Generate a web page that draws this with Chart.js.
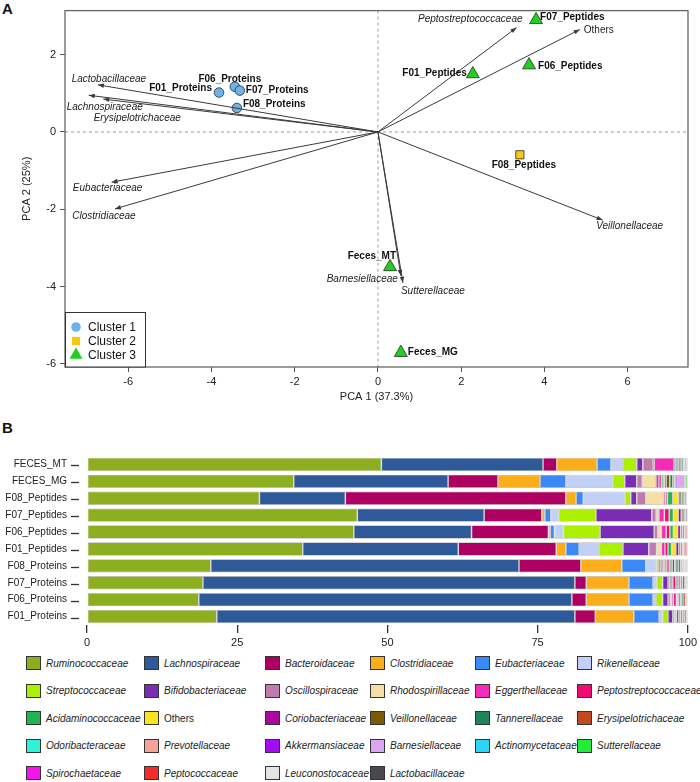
<!DOCTYPE html>
<html>
<head>
<meta charset="utf-8">
<script src="https://cdn.jsdelivr.net/npm/chart.js@4.4.1/dist/chart.umd.min.js"></script>
<style>
  body { margin: 0; background: #fff; font-family: 'Liberation Sans', Arial, sans-serif; }
  #page { position: relative; width: 700px; height: 782px; overflow: hidden; }
  .panel { position: absolute; font-weight: bold; font-size: 15px; color: #111; }
  #wrapA { position: absolute; left: 0; top: 0; width: 700px; height: 410px; }
  #wrapB { position: absolute; left: 0; top: 430px; width: 700px; height: 222px; }
  .lg { position: absolute; display: flex; align-items: center; font-size: 10px; font-style: italic; color: #222; white-space: nowrap; }
  .lg span.box { display: inline-block; width: 13px; height: 12px; border: 1px solid #333; margin-right: 5px; }
</style>
</head>
<body>
<div id="page">
  <div class="panel" style="left:2px;top:0px">A</div>
  <div class="panel" style="left:2px;top:419px">B</div>
  <div id="wrapA"><canvas id="pca"></canvas></div>
  <div id="wrapB"><canvas id="bars"></canvas></div>
  <div id="legendB"></div>
</div>
<script>
const FONT = "'Liberation Sans', Arial, sans-serif";
Chart.defaults.font.family = FONT;
Chart.defaults.color = '#222';

// ---- Panel A: PCA biplot ----
const sampleNames = ['F01_Proteins', 'F06_Proteins', 'F07_Proteins', 'F08_Proteins',
  'F01_Peptides', 'F06_Peptides', 'F07_Peptides', 'F08_Peptides', 'Feces_MT', 'Feces_MG'];
const samplePC1 = [-3.82, -3.44, -3.32, -3.39, 2.28, 3.63, 3.80, 3.41, 0.29, 0.55];
const samplePC2 = [1.02, 1.17, 1.07, 0.62, 1.50, 1.73, 2.90, -0.59, -3.49, -5.71];
const sampleCluster = [1, 1, 1, 1, 3, 3, 3, 2, 3, 3];

const loadingNames = ['Lactobacillaceae', 'Lachnospiraceae', 'Erysipelotrichaceae', 'Eubacteriaceae',
  'Clostridiaceae', 'Peptostreptococcaceae', 'Others', 'Veillonellaceae', 'Barnesiellaceae', 'Sutterellaceae'];
const loadingPC1 = [-6.73, -6.95, -6.60, -6.40, -6.32, 3.33, 4.85, 5.40, 0.55, 0.60];
const loadingPC2 = [1.22, 0.95, 0.85, -1.30, -1.99, 2.70, 2.65, -2.28, -3.72, -3.90];

const pcaTicksX = [-6, -4, -2, 0, 2, 4, 6];
const pcaTicksY = [-6, -4, -2, 0, 2];

// cluster look
const clusterStyle = {
  1: { label: 'Cluster 1', shape: 'circle', color: '#6DB3E8', r: 4.8 },
  2: { label: 'Cluster 2', shape: 'rect', color: '#F6C80E', r: 5.8 },
  3: { label: 'Cluster 3', shape: 'triangle', color: '#1FD01F', r: 7.5 }
};

// label placement (pixel offsets from the mark, text alignment)
const sampleLabelPos = {
  F01_Proteins: [-7, -4, 'right'], F06_Proteins: [-5, -8, 'center'], F07_Proteins: [6, 0, 'left'],
  F08_Proteins: [6, -4, 'left'], F01_Peptides: [-6, -1, 'right'], F06_Peptides: [9, 1, 'left'],
  F07_Peptides: [4, -3, 'left'], F08_Peptides: [4, 10, 'center'], Feces_MT: [6, -11, 'right'],
  Feces_MG: [7, 0, 'left']
};
const loadingLabelPos = {
  Lactobacillaceae: [11, -6, 'center'], Lachnospiraceae: [16, 12, 'center'],
  Erysipelotrichaceae: [34, 19, 'center'], Eubacteriaceae: [-4, 6, 'center'],
  Clostridiaceae: [-11, 7, 'center'], Peptostreptococcaceae: [6, -8, 'right'],
  Others: [4, 1, 'left'], Veillonellaceae: [27, 6, 'center'],
  Barnesiellaceae: [-3, 3, 'right'], Sutterellaceae: [-2, 8, 'left']
};

const arrowSets = loadingNames.map((n, i) => ({
  type: 'line',
  label: n,
  data: [{ x: 0, y: 0 }, { x: loadingPC1[i], y: loadingPC2[i] }],
  borderColor: '#3a3a3a',
  borderWidth: 1,
  pointRadius: 0,
  fill: false
}));

const pointSets = [1, 2, 3].map(c => ({
  type: 'scatter',
  label: clusterStyle[c].label,
  data: sampleNames.map((n, i) => ({ x: samplePC1[i], y: samplePC2[i], c: sampleCluster[i] }))
    .filter(p => p.c === c),
  pointStyle: clusterStyle[c].shape,
  pointRadius: clusterStyle[c].r,
  backgroundColor: clusterStyle[c].color,
  borderColor: '#2a2a2a',
  borderWidth: 0.8
}));

function drawMarker(ctx, style, x, y) {
  ctx.fillStyle = style.color;
  ctx.strokeStyle = '#2a2a2a';
  ctx.lineWidth = 0.8;
  Chart.helpers.drawPoint(ctx, { pointStyle: style.shape, radius: style.r, rotation: 0 }, x, y);
}

const pcaDecor = {
  id: 'pcaDecor',
  beforeDatasetsDraw(chart) {
    const { ctx, chartArea: a, scales: { x, y } } = chart;
    ctx.save();
    ctx.strokeStyle = '#9a9a9a';
    ctx.lineWidth = 1;
    ctx.setLineDash([3, 3]);
    const x0 = x.getPixelForValue(0), y0 = y.getPixelForValue(0);
    ctx.beginPath();
    ctx.moveTo(x0, a.top); ctx.lineTo(x0, a.bottom);
    ctx.moveTo(a.left, y0); ctx.lineTo(a.right, y0);
    ctx.stroke();
    ctx.restore();
  },
  afterDatasetsDraw(chart) {
    const { ctx, chartArea: a, scales: { x, y } } = chart;
    ctx.save();
    const x0 = x.getPixelForValue(0), y0 = y.getPixelForValue(0);
    // arrowheads + loading names
    loadingNames.forEach((n, i) => {
      const x1 = x.getPixelForValue(loadingPC1[i]);
      const y1 = y.getPixelForValue(loadingPC2[i]);
      const ang = Math.atan2(y1 - y0, x1 - x0);
      const L = 6, W = 2.3;
      ctx.fillStyle = '#3a3a3a';
      ctx.beginPath();
      ctx.moveTo(x1, y1);
      ctx.lineTo(x1 - L * Math.cos(ang) + W * Math.sin(ang), y1 - L * Math.sin(ang) - W * Math.cos(ang));
      ctx.lineTo(x1 - L * Math.cos(ang) - W * Math.sin(ang), y1 - L * Math.sin(ang) + W * Math.cos(ang));
      ctx.closePath();
      ctx.fill();
      const p = loadingLabelPos[n];
      ctx.font = (n === 'Others' ? '' : 'italic ') + '10px ' + FONT;
      ctx.fillStyle = '#222';
      ctx.textAlign = p[2];
      ctx.textBaseline = 'middle';
      ctx.fillText(n, x1 + p[0], y1 + p[1]);
    });
    // sample names
    ctx.font = 'bold 10px ' + FONT;
    sampleNames.forEach((n, i) => {
      const p = sampleLabelPos[n];
      ctx.textAlign = p[2];
      ctx.fillStyle = '#111';
      ctx.fillText(n, x.getPixelForValue(samplePC1[i]) + p[0], y.getPixelForValue(samplePC2[i]) + p[1]);
    });
    // frame
    ctx.strokeStyle = '#666';
    ctx.lineWidth = 1.3;
    ctx.strokeRect(a.left, a.top, a.right - a.left, a.bottom - a.top);
    // cluster legend
    const bx = a.left, bw = 80, bh = 55, by = a.bottom - bh;
    ctx.fillStyle = '#fff';
    ctx.fillRect(bx, by, bw, bh);
    ctx.strokeStyle = '#333';
    ctx.lineWidth = 1;
    ctx.strokeRect(bx + 0.5, by + 0.5, bw, bh - 0.5);
    [1, 2, 3].forEach((c, k) => {
      const cy = by + 15 + k * 14;
      drawMarker(ctx, clusterStyle[c], bx + 11, cy);
      ctx.fillStyle = '#111';
      ctx.font = '12px ' + FONT;
      ctx.textAlign = 'left';
      ctx.textBaseline = 'middle';
      ctx.fillText(clusterStyle[c].label, bx + 23, cy + 1);
    });
    ctx.restore();
  }
};

new Chart(document.getElementById('pca'), {
  data: { datasets: [...arrowSets, ...pointSets] },
  options: {
    responsive: true,
    maintainAspectRatio: false,
    animation: false,
    layout: { padding: { left: 0, right: 12, top: 6, bottom: 0 } },
    plugins: { legend: { display: false }, tooltip: { enabled: false } },
    scales: {
      x: {
        type: 'linear', position: 'bottom', min: -7.52, max: 7.45,
        afterBuildTicks: s => { s.ticks = pcaTicksX.map(v => ({ value: v })); },
        afterFit: s => { s.height = 43; },
        grid: { drawOnChartArea: false, tickLength: 5, color: '#555' },
        border: { display: false },
        ticks: { font: { size: 11 }, padding: 3, color: '#222' },
        title: { display: true, text: 'PCA 1 (37.3%)', font: { size: 11 }, padding: { top: 0, bottom: 6 }, color: '#222' }
      },
      y: {
        type: 'linear', min: -6.08, max: 3.14,
        afterBuildTicks: s => { s.ticks = pcaTicksY.map(v => ({ value: v })); },
        afterFit: s => { s.width = 65; },
        grid: { drawOnChartArea: false, tickLength: 5, color: '#555' },
        border: { display: false },
        ticks: { font: { size: 11 }, padding: 4, color: '#222' },
        title: { display: true, text: 'PCA 2 (25%)', font: { size: 11 }, padding: { top: 20, bottom: 0 }, color: '#222' }
      }
    }
  },
  plugins: [pcaDecor]
});

// ---- Panel B: family composition ----
const barSamples = ['FECES_MT', 'FECES_MG', 'F08_Peptides', 'F07_Peptides', 'F06_Peptides',
  'F01_Peptides', 'F08_Proteins', 'F07_Proteins', 'F06_Proteins', 'F01_Proteins'];
const families = ['Ruminococcaceae', 'Lachnospiraceae', 'Bacteroidaceae', 'Clostridiaceae', 'Eubacteriaceae',
  'Rikenellaceae', 'Streptococcaceae', 'Bifidobacteriaceae', 'Oscillospiraceae', 'Rhodospirillaceae',
  'Eggerthellaceae', 'Peptostreptococcaceae', 'Acidaminococcaceae', 'Others', 'Coriobacteriaceae',
  'Veillonellaceae', 'Tannerellaceae', 'Erysipelotrichaceae', 'Odoribacteraceae', 'Prevotellaceae',
  'Akkermansiaceae', 'Barnesiellaceae', 'Actinomycetaceae', 'Sutterellaceae', 'Spirochaetaceae',
  'Peptococcaceae', 'Leuconostocaceae', 'Lactobacillaceae'];
const familyColors = ['#8DAE1E', '#2F5A9A', '#AE0060', '#FCAD1A', '#3A89F7', '#C2D0F7', '#AAF000',
  '#7A2DB4', '#C07AAE', '#F4DFA4', '#F62BBA', '#F00A72', '#20B54E', '#FAE320', '#A8089E', '#7B5A08',
  '#1D8458', '#C4481E', '#2EF3D6', '#F5A39A', '#A40CF4', '#DCA6F2', '#2BD5F6', '#22EE3A', '#F514E8',
  '#F22B2B', '#E4E4E4', '#4B474A'];

// relative abundance (%) per sample, in family order
const FECES_MT = [49.0, 26.9, 2.3, 6.7, 2.3, 2.0, 2.3, 1.0, 1.7, 0.2, 3.3, 0.2, 0.3, 0.2, 0.3, 0.2, 0.3, 0.1, 0.1, 0.1, 0.0, 0.3, 0.0, 0.1, 0.0, 0.0, 0.0, 0.1];
const FECES_MG = [34.4, 25.7, 8.3, 7.0, 4.3, 7.8, 2.0, 2.0, 0.9, 2.3, 0.5, 0.4, 0.3, 0.2, 0.3, 0.6, 0.5, 0.2, 0.1, 0.1, 0.3, 1.3, 0.1, 0.3, 0.0, 0.0, 0.0, 0.1];
const F08_Peptides = [28.7, 14.3, 36.7, 1.7, 1.2, 6.9, 1.0, 1.0, 1.5, 3.0, 0.3, 0.3, 0.9, 0.8, 0.2, 0.4, 0.3, 0.2, 0.0, 0.4, 0.0, 0.1, 0.0, 0.0, 0.0, 0.0, 0.0, 0.0];
const F07_Peptides = [45.0, 21.1, 9.6, 0.5, 1.0, 1.3, 6.2, 9.3, 0.7, 0.5, 0.9, 0.8, 0.7, 0.8, 0.5, 0.3, 0.3, 0.1, 0.1, 0.2, 0.1, 0.0, 0.0, 0.0, 0.0, 0.0, 0.0, 0.1];
const F06_Peptides = [44.4, 19.6, 12.8, 0.3, 0.7, 1.5, 6.1, 9.0, 0.6, 0.6, 0.8, 0.6, 0.6, 0.7, 0.5, 0.3, 0.3, 0.1, 0.0, 0.4, 0.1, 0.0, 0.0, 0.0, 0.0, 0.0, 0.0, 0.0];
const F01_Peptides = [35.9, 25.9, 16.3, 1.6, 2.2, 3.3, 4.0, 4.3, 1.3, 0.8, 0.6, 0.5, 0.6, 0.7, 0.5, 0.3, 0.3, 0.1, 0.1, 0.6, 0.1, 0.0, 0.0, 0.0, 0.0, 0.0, 0.0, 0.0];
const F08_Proteins = [20.6, 51.3, 10.3, 6.8, 4.0, 1.8, 0.4, 0.3, 0.4, 0.3, 0.3, 0.4, 0.3, 0.2, 0.4, 0.2, 0.4, 0.4, 0.3, 0.2, 0.1, 0.1, 0.1, 0.0, 0.1, 0.1, 0.1, 0.1];
const F07_Proteins = [19.3, 61.9, 1.9, 7.1, 4.0, 0.6, 1.0, 0.9, 0.3, 0.2, 0.3, 0.5, 0.2, 0.2, 0.3, 0.1, 0.3, 0.4, 0.1, 0.1, 0.1, 0.1, 0.0, 0.0, 0.0, 0.0, 0.0, 0.1];
const F06_Proteins = [18.6, 62.1, 2.4, 7.1, 4.0, 0.5, 1.1, 0.9, 0.4, 0.2, 0.3, 0.5, 0.2, 0.2, 0.3, 0.1, 0.3, 0.4, 0.1, 0.1, 0.1, 0.0, 0.0, 0.0, 0.0, 0.0, 0.0, 0.1];
const F01_Proteins = [21.6, 59.6, 3.4, 6.4, 4.2, 0.6, 0.9, 0.8, 0.3, 0.1, 0.2, 0.4, 0.2, 0.1, 0.3, 0.1, 0.2, 0.3, 0.1, 0.1, 0.0, 0.0, 0.0, 0.0, 0.0, 0.0, 0.0, 0.1];
const barRows = [FECES_MT, FECES_MG, F08_Peptides, F07_Peptides, F06_Peptides,
  F01_Peptides, F08_Proteins, F07_Proteins, F06_Proteins, F01_Proteins];
const barTicks = [0, 25, 50, 75, 100];

const yTickDashes = {
  id: 'yTickDashes',
  afterDraw(chart) {
    const { ctx, scales: { y } } = chart;
    ctx.save();
    ctx.strokeStyle = '#333';
    ctx.lineWidth = 1.3;
    y.ticks.forEach((t, i) => {
      const py = Math.round(y.getPixelForTick(i)) + 1.5;
      ctx.beginPath();
      ctx.moveTo(71, py); ctx.lineTo(79, py);
      ctx.stroke();
    });
    ctx.restore();
  }
};

new Chart(document.getElementById('bars'), {
  type: 'bar',
  data: {
    labels: barSamples,
    datasets: families.map((f, k) => ({
      label: f,
      data: barRows.map(r => r[k]),
      backgroundColor: familyColors[k],
      borderColor: 'rgba(0,0,0,0.28)',
      borderWidth: 0.7,
      borderSkipped: false,
      categoryPercentage: 1,
      barPercentage: 0.79
    }))
  },
  options: {
    indexAxis: 'y',
    responsive: true,
    maintainAspectRatio: false,
    animation: false,
    layout: { padding: { left: 0, right: 10, top: 5, bottom: 0 } },
    plugins: { legend: { display: false }, tooltip: { enabled: false } },
    scales: {
      x: {
        stacked: true, min: 0, max: 100,
        afterBuildTicks: s => { s.ticks = barTicks.map(v => ({ value: v })); },
        afterFit: s => { s.height = 27; },
        grid: { drawOnChartArea: false, tickLength: 8, color: '#333', lineWidth: 1.3 },
        border: { display: false },
        ticks: { font: { size: 11 }, padding: 3, color: '#222' }
      },
      y: {
        stacked: true,
        afterFit: s => { s.width = 87; },
        grid: { display: false, tickLength: 0 },
        border: { display: false },
        ticks: { font: { size: 10 }, padding: 20, color: '#222' }
      }
    }
  },
  plugins: [yTickDashes]
});

// family legend laid out in six columns
const legendCols = [26, 144, 265, 370, 475, 577];
const legendRowTop = 656;
const legendRowStep = 27.6;
const lg = document.getElementById('legendB');
families.forEach((f, k) => {
  const d = document.createElement('div');
  d.className = 'lg';
  d.style.left = legendCols[k % 6] + 'px';
  d.style.top = (legendRowTop + Math.floor(k / 6) * legendRowStep) + 'px';
  if (f === 'Others') d.style.fontStyle = 'normal';
  d.innerHTML = '<span class="box" style="background:' + familyColors[k] + '"></span>' + f;
  lg.appendChild(d);
});
</script>
</body>
</html>
